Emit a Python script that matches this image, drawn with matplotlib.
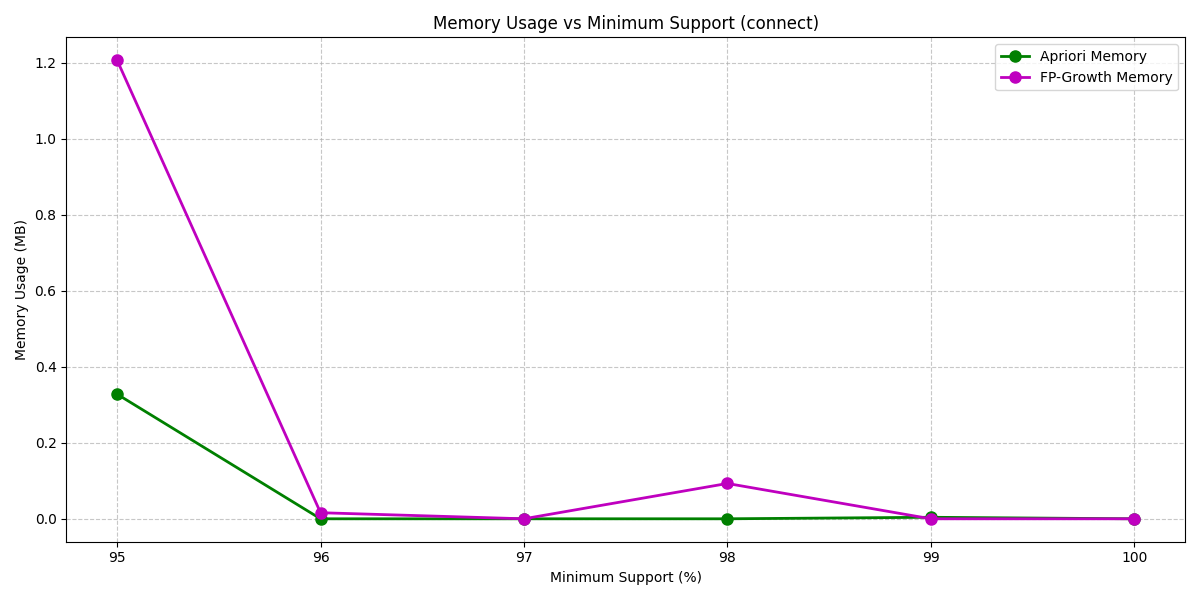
import matplotlib
matplotlib.use("Agg")
import matplotlib.pyplot as plt

min_support = [95, 96, 97, 98, 99, 100]
apriori_memory = [0.328, 0.0, 0.0, 0.0, 0.004, 0.0]
fpgrowth_memory = [1.207, 0.016, 0.0, 0.093, 0.0, 0.0]

fig, ax = plt.subplots(figsize=(12, 6), dpi=100)

ax.plot(min_support, apriori_memory, 'g-o', linewidth=2, markersize=8, label='Apriori Memory')
ax.plot(min_support, fpgrowth_memory, 'm-o', linewidth=2, markersize=8, label='FP-Growth Memory')

ax.set_title('Memory Usage vs Minimum Support (connect)')
ax.set_xlabel('Minimum Support (%)')
ax.set_ylabel('Memory Usage (MB)')
ax.grid(True, linestyle='--', alpha=0.7)
ax.legend()

plt.tight_layout()
plt.savefig('out.png')
